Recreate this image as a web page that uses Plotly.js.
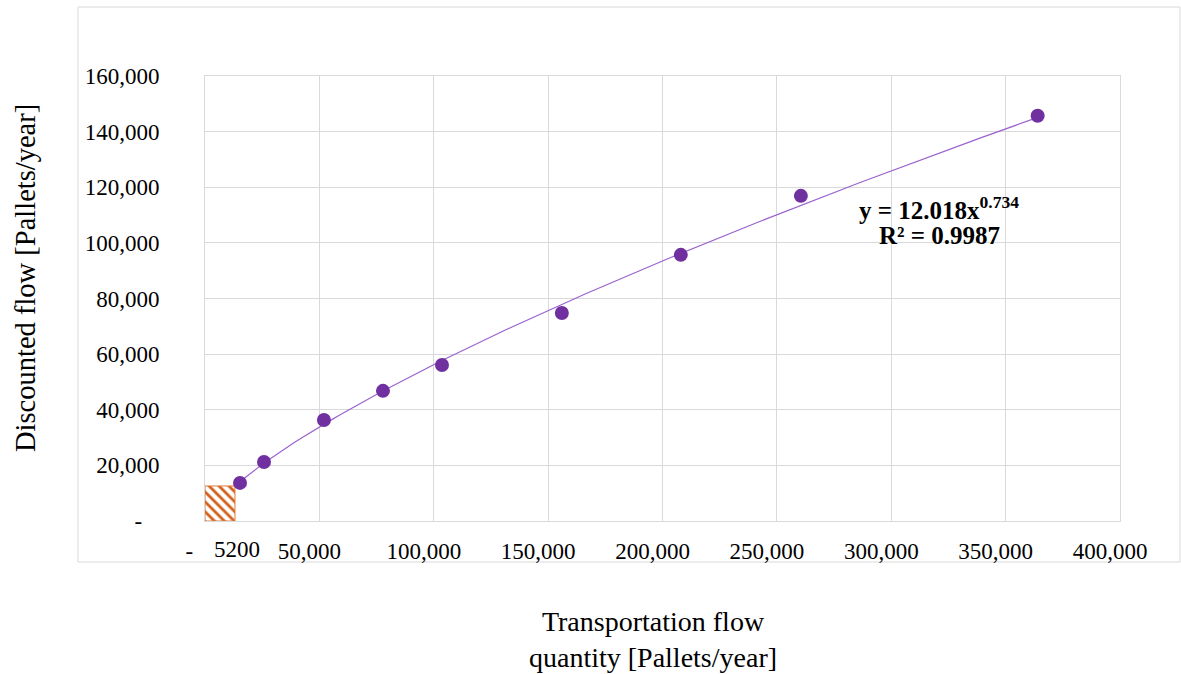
<!DOCTYPE html>
<html>
<head>
<meta charset="utf-8">
<script src="https://cdn.plot.ly/plotly-3.0.1.min.js"></script>
<style>
html,body{margin:0;padding:0;background:#fff;}
#chart{width:1181px;height:674px;}
</style>
</head>
<body>
<div id="chart"></div>
<script>
// Data
var flowX = [15300, 25800, 52000, 77800, 103600, 156000, 208000, 260500, 364000];
var discountedY = [13700, 21200, 36300, 46800, 56100, 74800, 95700, 116900, 145700];

// Trendline (power fit shown on the chart)
var fitA = 12.018;
var fitB = 0.734;
var fitEquation = "y = 12.018x<sup>0.734</sup>";
var fitR2 = "R² = 0.9987";

// Highlighted small-flow region
var boxX = [6550];
var boxWidth = [13100];
var boxY = [12600];
var boxLabel = "5200";

// Tick labels
var xTickVals = [0, 50000, 100000, 150000, 200000, 250000, 300000, 350000, 400000];
var xTickText = ["-\u00a0\u00a0", "50,000", "100,000", "150,000", "200,000", "250,000", "300,000", "350,000", "400,000"];
var yTickVals = [0, 20000, 40000, 60000, 80000, 100000, 120000, 140000, 160000];
var yTickText = ["-\u00a0\u00a0\u00a0", "20,000", "40,000", "60,000", "80,000", "100,000", "120,000", "140,000", "160,000"];

var xTitle = "Transportation flow<br>quantity [Pallets/year]";
var yTitle = "Discounted flow [Pallets/year]";

// Build trendline across the data range
var fitX = [], fitY = [];
var x0 = flowX[0], x1 = flowX[flowX.length - 1];
for (var i = 0; i <= 120; i++) {
  var xv = x0 + (x1 - x0) * i / 120;
  fitX.push(xv);
  fitY.push(fitA * Math.pow(xv, fitB));
}

var font = "'Liberation Serif', 'Times New Roman', serif";
var grid = "#d9d9d9";

var traces = [
  {
    type: "bar", x: boxX, y: boxY, width: boxWidth,
    marker: {
      color: "#ffffff",
      line: {color: "#e07b39", width: 1},
      pattern: {shape: "\\", fgcolor: "#d2601a", bgcolor: "#ffffff", size: 7, solidity: 0.4}
    },
    hoverinfo: "skip", showlegend: false
  },
  {
    type: "scatter", mode: "lines", x: fitX, y: fitY,
    line: {color: "#9a63cf", width: 1.2},
    hoverinfo: "skip", showlegend: false
  },
  {
    type: "scatter", mode: "markers", x: flowX, y: discountedY,
    marker: {color: "#7030a0", size: 14},
    showlegend: false
  }
];

var layout = {
  width: 1181, height: 674,
  margin: {l: 205, r: 61, t: 76, b: 153},
  paper_bgcolor: "#ffffff", plot_bgcolor: "#ffffff",
  font: {family: font, color: "#000", size: 23},
  showlegend: false,
  xaxis: {
    range: [0, 400000], tickvals: xTickVals, ticktext: xTickText,
    showgrid: true, gridcolor: grid, gridwidth: 1,
    zeroline: false, showline: true, linecolor: grid, linewidth: 1, mirror: true,
    ticks: "", ticklabelshift: -10, ticklabelstandoff: 9,
    tickfont: {family: font, size: 23, color: "#000"}
  },
  yaxis: {
    range: [0, 160000], tickvals: yTickVals, ticktext: yTickText,
    showgrid: true, gridcolor: grid, gridwidth: 1,
    zeroline: false, showline: true, linecolor: grid, linewidth: 1, mirror: true,
    ticks: "", ticklabelstandoff: 40,
    tickfont: {family: font, size: 23, color: "#000"}
  },
  annotations: [
    {
      x: (653 - 205) / 915, xref: "paper", y: (521 - 604) / 445, yref: "paper",
      text: xTitle, showarrow: false, yanchor: "top", xanchor: "center",
      font: {family: font, size: 28, color: "#000"}, align: "center"
    },
    {
      x: (25 - 205) / 915, xref: "paper", y: (521 - 278) / 445, yref: "paper",
      text: yTitle, showarrow: false, textangle: -90, xanchor: "center", yanchor: "middle",
      font: {family: font, size: 28.5, color: "#000"}
    },
    {
      x: 14000, xref: "x", y: 0, yref: "paper", yanchor: "top",
      yshift: -14, text: boxLabel, showarrow: false,
      font: {family: font, size: 23, color: "#000"}
    },
    {
      x: 321000, xref: "x", y: 112500, yref: "y",
      text: fitEquation, showarrow: false, align: "center",
      font: {family: font, size: 25, color: "#000", weight: "bold"}
    },
    {
      x: 321000, xref: "x", y: 102500, yref: "y",
      text: fitR2, showarrow: false, align: "center",
      font: {family: font, size: 25, color: "#000", weight: "bold"}
    }
  ],
  shapes: [
    {
      type: "rect", xref: "paper", yref: "paper",
      x0: (78 - 205) / 915, x1: (1180 - 205) / 915,
      y0: (521 - 562) / 445, y1: (521 - 7) / 445,
      line: {color: grid, width: 1}, fillcolor: "rgba(0,0,0,0)", layer: "below"
    }
  ],
  bargap: 0
};

Plotly.newPlot("chart", traces, layout, {displayModeBar: false, staticPlot: true});
</script>
</body>
</html>
